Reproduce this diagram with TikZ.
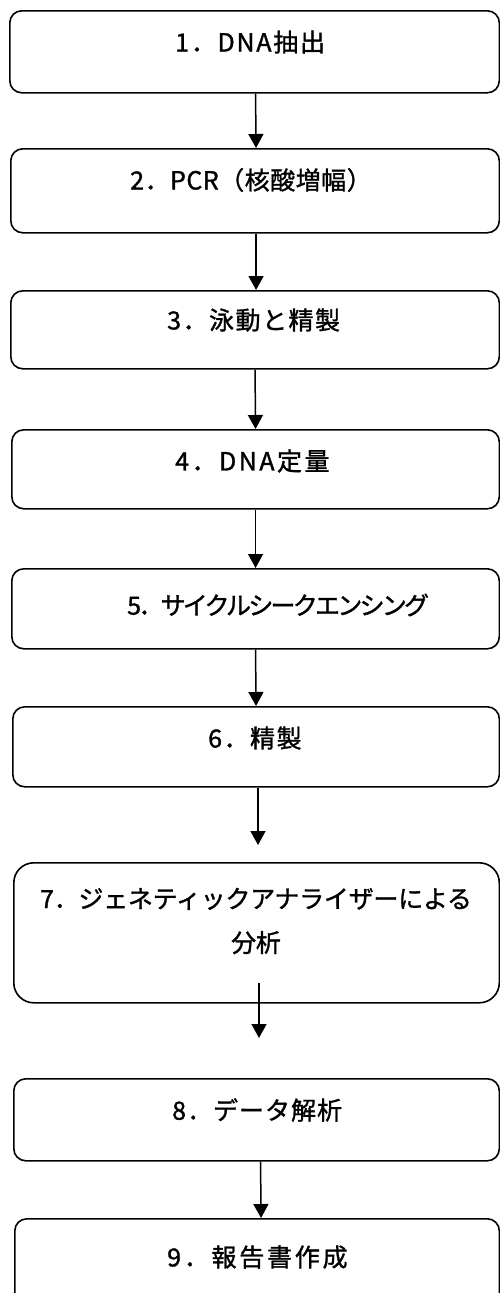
\documentclass[tikz,border=0pt]{standalone}
\usepackage{fontspec}
\setmainfont{Noto Sans CJK JP}[FakeBold=1.2]
\usetikzlibrary{arrows.meta}
\begin{document}
\begin{tikzpicture}[x=1pt,y=-1pt,
  box/.style={draw, line width=1.6pt, rounded corners=12pt, inner sep=0pt, anchor=north west},
  lbl/.style={anchor=west, inner sep=0pt, font=\fontsize{25}{29}\selectfont\addfontfeature{LetterSpace=#1}},
  arr/.style={line width=1.5pt, -{Triangle[width=15pt,length=14pt]}}]
\useasboundingbox (0,0) rectangle (500,1293);
\fill[white] (0,0) rectangle (500,1293);
\clip (0,0) rectangle (500,1293);
% boxes
\node[box, minimum width=489.5pt, minimum height=82pt] (b1) at (9,10) {};
\node[box, minimum width=488.5pt, minimum height=84pt] (b2) at (10,148) {};
\node[box, minimum width=488.5pt, minimum height=78pt] (b3) at (10,290) {};
\node[box, minimum width=487.5pt, minimum height=79pt] (b4) at (11,429) {};
\node[box, minimum width=487.5pt, minimum height=80pt] (b5) at (11,568) {};
\node[box, minimum width=486.5pt, minimum height=80pt] (b6) at (12,706) {};
\node[box, rounded corners=20pt, minimum width=485.5pt, minimum height=140pt] (b7) at (13,862) {};
\node[box, minimum width=485.5pt, minimum height=82pt] (b8) at (13,1078) {};
\node[box, minimum width=484.5pt, minimum height=90pt] (b9) at (14,1218) {};
% labels
\node[lbl=7] (t1) at (175,42) {1．DNA抽出};
\node[lbl=2] (t2) at (130,180) {2．PCR（核酸増幅）};
\node[lbl=6] (t3) at (167,320) {3．泳動と精製};
\node[lbl=10] (t4) at (175,461) {4．DNA定量};
\node[lbl=-11] (t5) at (127,605) {5．サイクルシークエンシング};
\node[lbl=6] (t6) at (208,738) {6．精製};
\node[inner sep=0pt, align=center, font=\fontsize{25}{44}\selectfont\addfontfeature{LetterSpace=-1}] (t7) at (256,921) {7．ジェネティックアナライザーによる\\分析};
\node[lbl=4] (t8) at (172,1110) {8．データ解析};
\node[lbl=11] (t9) at (167,1257) {9．報告書作成};
% free ends
\coordinate (e6) at (258,845);
\coordinate (s7) at (259,983);
\coordinate (e7) at (259,1038);
% arrows
\draw[arr] ([xshift=1pt]b1.south) -- ([xshift=1pt]b2.north);
\draw[arr] ([xshift=1pt]b2.south) -- ([xshift=1pt]b3.north);
\draw[arr] ([xshift=0pt]b3.south) -- ([xshift=0pt]b4.north);
\draw[arr] ([xshift=0pt]b4.south) -- ([xshift=0pt]b5.north);
\draw[arr] ([xshift=0pt]b5.south) -- ([xshift=0pt]b6.north);
\draw[arr] (b6.south -| e6) -- (e6);
\draw[arr] (s7) -- (e7);
\draw[arr] ([xshift=4pt]b8.south) -- ([xshift=4pt]b9.north);
\end{tikzpicture}
\end{document}
